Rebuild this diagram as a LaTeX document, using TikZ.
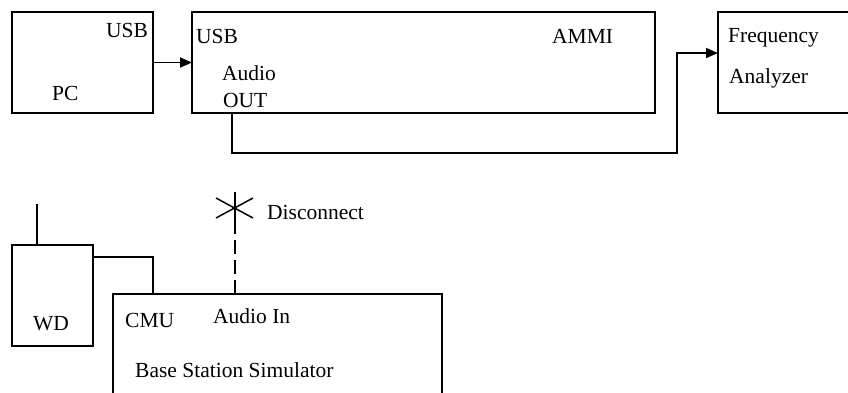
\documentclass[tikz,border=0pt]{standalone}
\usepackage{fontspec}
\setmainfont{Liberation Serif}
\usetikzlibrary{arrows.meta,calc}
\begin{document}
\begin{tikzpicture}[x=1pt,y=-1pt,
  box/.style={draw,line width=1.8pt,inner sep=0pt,outer sep=0pt,anchor=north west},
  openbox/.style={inner sep=0pt,outer sep=0pt,anchor=north west},
  lbl/.style={inner sep=0pt,anchor=base west,font=\fontsize{21.5}{26}\selectfont},
  wire/.style={line width=1.8pt},
  arr/.style={line width=1.8pt,-{Triangle[length=12pt,width=10pt]}}]
\useasboundingbox (0,0) rectangle (848,392);
% boxes
\node[box,minimum width=141pt,minimum height=101pt] (pc) at (12,12) {};
\node[box,minimum width=463pt,minimum height=101pt] (ammi) at (192,12) {};
\node[openbox,minimum width=132pt,minimum height=101pt] (fa) at (718,12) {};
\draw[wire] (fa.north east) -- (fa.north west) -- (fa.south west) -- (fa.south east);
\node[box,minimum width=81pt,minimum height=101pt] (wd) at (12,245) {};
\node[openbox,minimum width=329pt,minimum height=102pt] (cmu) at (113,294) {};
\draw[wire] (cmu.south west) -- (cmu.north west) -- (cmu.north east) -- (cmu.south east);
% labels
\node[lbl] (pcusb) at (106,37) {USB};
\node[lbl] (pclbl) at (52,100) {PC};
\node[lbl] (ammiusb) at (196,43) {USB};
\node[lbl] (aud) at (222,80) {Audio};
\node[lbl] (out) at (223,107) {OUT};
\node[lbl] (ammilbl) at (552,43) {AMMI};
\node[lbl] (freq) at (728,42) {Frequency};
\node[lbl] (anal) at (729,83) {Analyzer};
\node[lbl] (wdlbl) at (33,330) {WD};
\node[lbl] (cmulbl) at (125,327) {CMU};
\node[lbl] (ain) at (213,323) {Audio In};
\node[lbl] (bss) at (135,377) {Base Station Simulator};
\node[lbl] (disc) at (267,219) {Disconnect};
% connectors
\draw[arr] (pc.east) -- (ammi.west);
\coordinate (aout) at ($(ammi.south west)+(40,0)$);
\coordinate (turn) at (677,153);
\coordinate (fain) at ($(fa.north west)+(0,41)$);
\draw[arr] (aout) |- (turn) |- (fain);
\coordinate (ant) at (37,204);
\draw[wire] (wd.north -| ant) -- (ant);
\coordinate (wdport) at ($(wd.north east)+(0,12)$);
\coordinate (cmuport) at ($(cmu.north west)+(40,0)$);
\draw[wire] (wdport) -| (cmuport);
% disconnected audio in
\coordinate (ainport) at ($(cmu.north west)+(122,0)$);
\coordinate (star) at (235,208);
\coordinate (startop) at (235,192);
\coordinate (starbot) at (235,224);
\draw[wire,dash pattern=on 14pt off 6pt] (ainport) -- (starbot);
\draw[line width=1.5pt] (startop) -- (starbot);
\draw[line width=1.5pt] ($(star)+(-19,-10)$) -- ($(star)+(18,10)$);
\draw[line width=1.5pt] ($(star)+(-19,10)$) -- ($(star)+(18,-10)$);
\end{tikzpicture}
\end{document}
